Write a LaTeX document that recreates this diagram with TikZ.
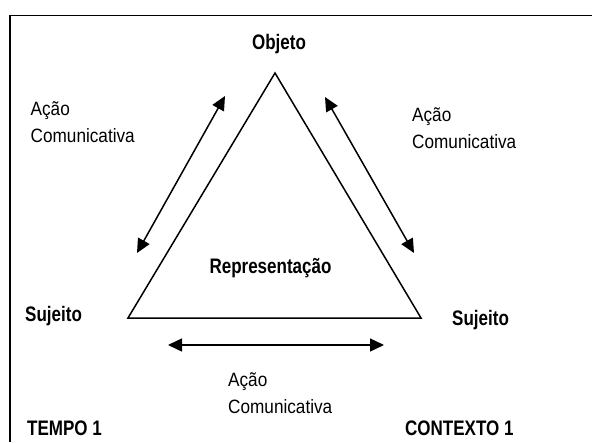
\documentclass[tikz,border=0pt]{standalone}
\usepackage{fontspec}
\setmainfont{Liberation Sans}[FakeStretch=0.89]
\newfontfamily\headfont{Liberation Sans}[FakeStretch=0.81]
\usetikzlibrary{arrows.meta}

\begin{document}
\begin{tikzpicture}[x=1pt,y=-1pt]
    \tikzset{
        lbl/.style={font=\headfont\bfseries\fontsize{21}{24}\selectfont,inner sep=0pt},
        acao/.style={font=\fontsize{19.3}{27}\selectfont,align=left,inner sep=0pt,anchor=north west},
        duplo/.style={black,line width=1.5pt,{Triangle[length=14pt,width=13pt]}-{Triangle[length=14pt,width=13pt]}}
    }
    \useasboundingbox (0,0) rectangle (592,442);
    % moldura
    \draw [black,line width=1.6pt] (10,442) -- (10,15.5) -- (592,15.5);
    % triangulo
    \coordinate (obj) at (275,73);
    \coordinate (suj1) at (128,318);
    \coordinate (suj2) at (421,318);
    \draw [black,line width=1.5pt,line join=miter] (obj) -- (suj2) -- (suj1) -- cycle;
    % setas
    \coordinate (e1) at (137,253);  \coordinate (e2) at (225,96);
    \coordinate (d1) at (325,97);   \coordinate (d2) at (414,253);
    \coordinate (b1) at (168,345);  \coordinate (b2) at (384,345);
    \draw [duplo] (e1) -- (e2);
    \draw [duplo] (d1) -- (d2);
    \draw [duplo] (b1) -- (b2);
    % textos
    \node [lbl,anchor=base] (objeto) at (279,49) {Objeto};
    \node [lbl,anchor=base] (repr) at (270.5,273) {Representação};
    \node [lbl,anchor=base west] (sujA) at (25,321.5) {Sujeito};
    \node [lbl,anchor=base west] (sujB) at (452,325) {Sujeito};
    \node [lbl,anchor=base west] (tempo) at (27,435) {TEMPO 1};
    \node [lbl,anchor=base west] (contexto) at (405,435) {CONTEXTO 1};
    \node [acao] (acaoE) at (30.5,101.5) {Ação\\Comunicativa};
    \node [acao] (acaoD) at (412,107.5) {Ação\\Comunicativa};
    \node [acao] (acaoB) at (228,372) {Ação\\Comunicativa};
\end{tikzpicture}
\end{document}
